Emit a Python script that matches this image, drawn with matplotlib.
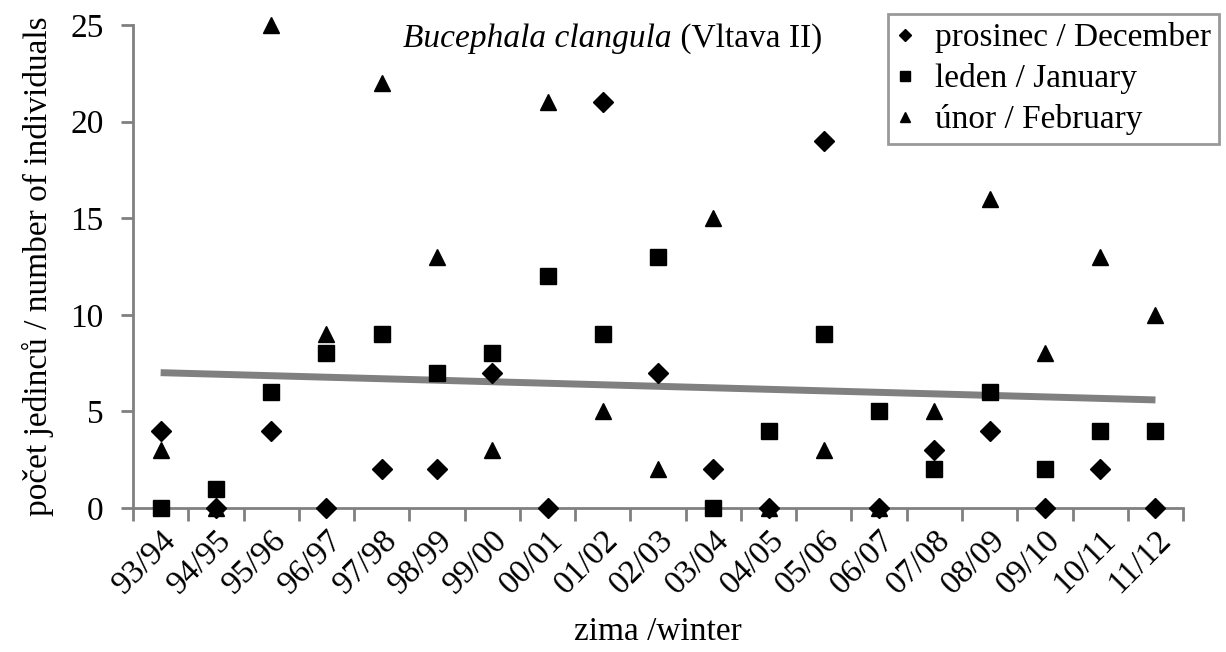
import matplotlib
matplotlib.use('Agg')
import matplotlib.pyplot as plt
import numpy as np

# zimy / winters
zimy = ['93/94', '94/95', '95/96', '96/97', '97/98', '98/99', '99/00', '00/01',
        '01/02', '02/03', '03/04', '04/05', '05/06', '06/07', '07/08', '08/09',
        '09/10', '10/11', '11/12']

# pocty jedincu / counts
prosinec = [4, 0, 4, 0, 2, 2, 7, 0, 21, 7, 2, 0, 19, 0, 3, 4, 0, 2, 0]
leden = [0, 1, 6, 8, 9, 7, 8, 12, 9, 13, 0, 4, 9, 5, 2, 6, 2, 4, 4]
unor = [3, 0, 25, 9, 22, 13, 3, 21, 5, 2, 15, 0, 3, 0, 5, 16, 8, 13, 10]

plt.rcParams['font.family'] = ['Liberation Serif', 'DejaVu Serif']

fig = plt.figure(figsize=(12.26, 6.52), dpi=100)
ax = fig.add_axes([0.1085, 0.2209, 0.8565, 0.7408])

x = np.arange(len(zimy))
ax.plot(x, unor, '^', color='black', markersize=12, linestyle='none',
        label='únor / February', zorder=3, clip_on=False)
ax.plot(x, prosinec, 'D', color='black', markersize=10, linestyle='none',
        label='prosinec / December', zorder=4, clip_on=False)
ax.plot(x, leden, 's', color='black', markersize=11, linestyle='none',
        label='leden / January', zorder=5, clip_on=False)

# linearni trend ze vsech hodnot
xx = np.concatenate([x, x, x])
yy = np.concatenate([prosinec, leden, unor]).astype(float)
k, q = np.polyfit(xx, yy, 1)
ax.plot([x[0], x[-1]], [k * x[0] + q, k * x[-1] + q], color='#808080',
        linewidth=5, solid_capstyle='butt', zorder=2)

ax.set_xlim(-0.5, len(zimy) - 0.5)
ax.set_ylim(0, 25)
ax.set_yticks([0, 5, 10, 15, 20, 25])
ax.set_xticks(np.arange(-0.5, len(zimy)))
ax.set_xticklabels([])
ax.set_xticks(x, minor=True)
ax.set_xticklabels(zimy, minor=True, rotation=45, ha='right', va='top',
                   rotation_mode='anchor', fontsize=24)
ax.tick_params(axis='x', which='minor', length=0, pad=12)
ax.tick_params(axis='x', which='major', length=9, width=2, color='#808080',
               direction='out')
ax.tick_params(axis='y', length=9, width=2, color='#808080', direction='out',
               labelsize=24, pad=12)

for s in ['top', 'right']:
    ax.spines[s].set_visible(False)
for s in ['left', 'bottom']:
    ax.spines[s].set_color('#808080')
    ax.spines[s].set_linewidth(2)

ax.set_ylabel('počet jedinců / number of individuals', fontsize=24, labelpad=12)
ax.set_xlabel('zima /winter', fontsize=24, labelpad=12)

ax.text(0.513, 1.003, 'Bucephala clangula', style='italic',
        transform=ax.transAxes, fontsize=24, ha='right', va='top')
ax.text(0.513, 1.003, ' (Vltava II)', transform=ax.transAxes,
        fontsize=24, ha='left', va='top')

h, l = ax.get_legend_handles_labels()
poradi = [1, 2, 0]
leg = fig.legend([h[i] for i in poradi], [l[i] for i in poradi],
                 loc='upper left', bbox_to_anchor=(888 / 1226, 1 - 14 / 652),
                 fontsize=24, frameon=True, fancybox=False, handlelength=0.5,
                 handletextpad=0.65, borderpad=0.25, labelspacing=0.3,
                 markerscale=0.6, borderaxespad=0)
leg.get_frame().set_edgecolor('#808080')
leg.get_frame().set_linewidth(2)

fig.savefig('out.png', dpi=100)
